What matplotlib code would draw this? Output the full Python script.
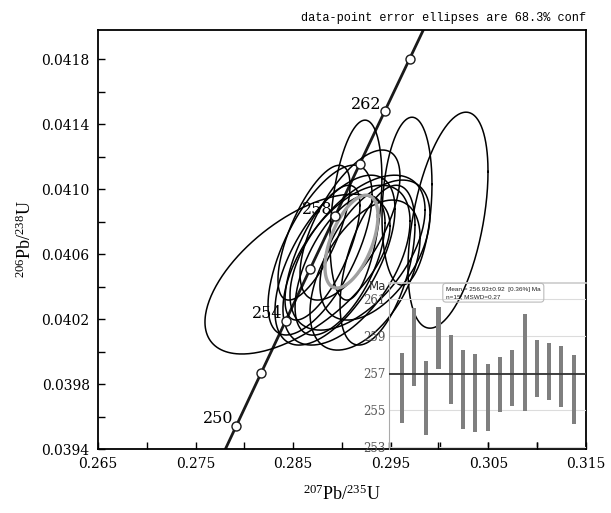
import numpy as np
import matplotlib
matplotlib.use("Agg")
import matplotlib.pyplot as plt

plt.rcParams["mathtext.fontset"] = "custom"
plt.rcParams["mathtext.rm"] = "Liberation Serif"
plt.rcParams["mathtext.it"] = "Liberation Serif:italic"

# ---- data-point error ellipses (207Pb/235U, 206Pb/238U) ----
pb207_u235 = [0.28544, 0.30086, 0.29666, 0.29143, 0.28775, 0.28928, 0.29046, 0.29159,
              0.29082, 0.28800, 0.29236, 0.28980, 0.29338, 0.28713, 0.29364]
pb207_u235_err = [0.00948, 0.00410, 0.00256, 0.00266, 0.00533, 0.00615, 0.00651, 0.00692,
                  0.00512, 0.00384, 0.00564, 0.00461, 0.00564, 0.00369, 0.00384]
pb206_u238 = [0.040477, 0.040809, 0.040926, 0.040871, 0.040625, 0.040563, 0.040532, 0.040609,
              0.040779, 0.040609, 0.040471, 0.040532, 0.040625, 0.040732, 0.040532]
pb206_u238_err = [0.000492, 0.000665, 0.000517, 0.000554, 0.000523, 0.000523, 0.000492, 0.000477,
                  0.000462, 0.000415, 0.000462, 0.000431, 0.000431, 0.000415, 0.000492]
err_corr = [0.60, 0.45, 0.20, 0.35, 0.65, 0.60, 0.55, 0.55, 0.65, 0.70, 0.50, 0.60, 0.50, 0.70, 0.50]

# weighted-mean ellipse (grey)
mean_xy = (0.29097, 0.040677)
mean_err = (0.002715, 0.000286)
mean_corr = 0.55

# concordia
concordia_ticks = [250, 252, 254, 256, 258, 260, 262, 264]
concordia_labels = [250, 254, 258, 262]
LAMBDA238 = 1.55125e-10
LAMBDA235 = 9.8485e-10

# ---- weighted mean age plot (inset) ----
age_low = [254.27, 256.29, 253.63, 257.20, 255.33, 253.98, 253.80, 253.87,
           254.86, 255.23, 254.95, 255.71, 255.53, 255.17, 254.23]
age_high = [258.07, 260.55, 257.65, 260.60, 259.06, 258.27, 258.03, 257.49,
            257.89, 258.27, 260.20, 258.79, 258.65, 258.47, 257.96]
mean_age = 256.93
inset_yticks = [253, 255, 257, 259, 261]
mean_text = "Mean = 256.93\u00b10.92  [0.36%] Ma\nn=15; MSWD=0.27"

W, H = 611, 513
fig = plt.figure(figsize=(W / 100, H / 100), dpi=100)
fig.patch.set_facecolor("white")

L, R, T, B = 98, 586, 30, 449
ax = fig.add_axes([L / W, 1 - B / H, (R - L) / W, (B - T) / H])
ax.set_xlim(0.265, 0.315)
ax.set_ylim(0.0394, 0.04198)


def ellipse_pts(cx, cy, ex, ey, r, n=300):
    t = np.linspace(0, 2 * np.pi, n)
    xs = cx + ex * np.cos(t)
    ys = cy + ey * (r * np.cos(t) + np.sqrt(1 - r * r) * np.sin(t))
    return xs, ys


# concordia curve
tt = np.linspace(240e6, 275e6, 400)
ax.plot(np.exp(LAMBDA235 * tt) - 1, np.exp(LAMBDA238 * tt) - 1, color="#1a1a1a", lw=2.0, zorder=2)

for cx, ex, cy, ey, r in zip(pb207_u235, pb207_u235_err, pb206_u238, pb206_u238_err, err_corr):
    xs, ys = ellipse_pts(cx, cy, ex, ey, r)
    ax.plot(xs, ys, color="black", lw=1.1, zorder=3)

xs, ys = ellipse_pts(mean_xy[0], mean_xy[1], mean_err[0], mean_err[1], mean_corr)
ax.plot(xs, ys, color="#a0a0a0", lw=2.4, zorder=4)

ct = np.array(concordia_ticks) * 1e6
ax.plot(np.exp(LAMBDA235 * ct) - 1, np.exp(LAMBDA238 * ct) - 1, "o", ms=6.5,
        mfc="white", mec="#1a1a1a", mew=1.0, zorder=5)
for a in concordia_labels:
    px = np.exp(LAMBDA235 * a * 1e6) - 1
    py = np.exp(LAMBDA238 * a * 1e6) - 1
    ax.annotate(str(a), (px, py), xytext=(-3, 7), textcoords="offset pixels",
                ha="right", va="center", family="DejaVu Serif", fontsize=11.5, zorder=4)

ax.set_xticks(np.arange(0.265, 0.3151, 0.01))
ax.set_xticks(np.arange(0.270, 0.3151, 0.01), minor=True)
ax.set_xticklabels([f"{v:.3f}" for v in np.arange(0.265, 0.3151, 0.01)])
ax.set_yticks(np.arange(0.0394, 0.04181, 0.0004))
ax.set_yticks(np.arange(0.0396, 0.04199, 0.0004), minor=True)
ax.set_yticklabels([f"{v:.4f}" for v in np.arange(0.0394, 0.04181, 0.0004)])
ax.tick_params(which="both", direction="in", length=5, width=1.0, labelsize=10, pad=6)
for lab in ax.get_xticklabels() + ax.get_yticklabels():
    lab.set_family("DejaVu Serif")
for s in ax.spines.values():
    s.set_linewidth(1.3)

ax.set_xlabel(r"$\mathrm{^{207}Pb/^{235}U}$", fontsize=13)
ax.set_ylabel(r"$\mathrm{^{206}Pb/^{238}U}$", fontsize=13)
ax.xaxis.set_label_coords(0.5, -(485 - B) / (B - T))
ax.yaxis.set_label_coords((35 - L) / (R - L), 0.5)

fig.text(R / W, 1 - 18 / H, "data-point error ellipses are 68.3% conf",
         ha="right", va="center", family="Liberation Mono", fontsize=8.6)

# ---- inset ----
IL, IR, IT, IB = 389.3, 586, 282.7, 449
ax2 = fig.add_axes([IL / W, 1 - IB / H, (IR - IL) / W, (IB - IT) / H], zorder=3)
ax2.set_facecolor("none")
ax2.set_xlim(0, 16)
ax2.set_ylim(252.88, 261.9)
idx = np.arange(1, len(age_low) + 1)
ax2.bar(idx, np.array(age_high) - np.array(age_low), bottom=age_low, width=0.33,
        color="#7f7f7f", zorder=3)
ax2.axhline(mean_age, color="#333333", lw=1.3, zorder=4)
for v in inset_yticks:
    ax2.axhline(v, color="#dcdcdc", lw=0.8, zorder=1)
ax2.set_yticks(inset_yticks)
ax2.set_yticklabels([str(v) for v in inset_yticks], family="DejaVu Serif", fontsize=8.5, color="#555555")
ax2.set_xticks([0, 4, 8, 12])
ax2.set_xticklabels([])
ax2.tick_params(axis="y", length=0, pad=3)
ax2.tick_params(axis="x", direction="in", length=5, width=1.0)
ax2.spines["left"].set_color("#aaaaaa")
ax2.spines["left"].set_linewidth(0.8)
ax2.spines["top"].set_color("#cccccc")
ax2.spines["top"].set_linewidth(1.2)
ax2.spines["right"].set_visible(False)
ax2.spines["bottom"].set_visible(False)
ax2.text(-0.06, (IB - 286) / (IB - IT), "Ma", transform=ax2.transAxes, ha="center", va="center",
         fontsize=8.5, family="DejaVu Sans", color="#333333")
ax2.text((446 - IL) / (IR - IL), (IB - 286.5) / (IB - IT), mean_text, transform=ax2.transAxes,
         ha="left", va="top", fontsize=4.6, family="Liberation Sans", color="#222222",
         linespacing=1.6,
         bbox=dict(boxstyle="round,pad=0.5", fc="none", ec="#bbbbbb", lw=0.8))

fig.savefig("out.png", dpi=100)
